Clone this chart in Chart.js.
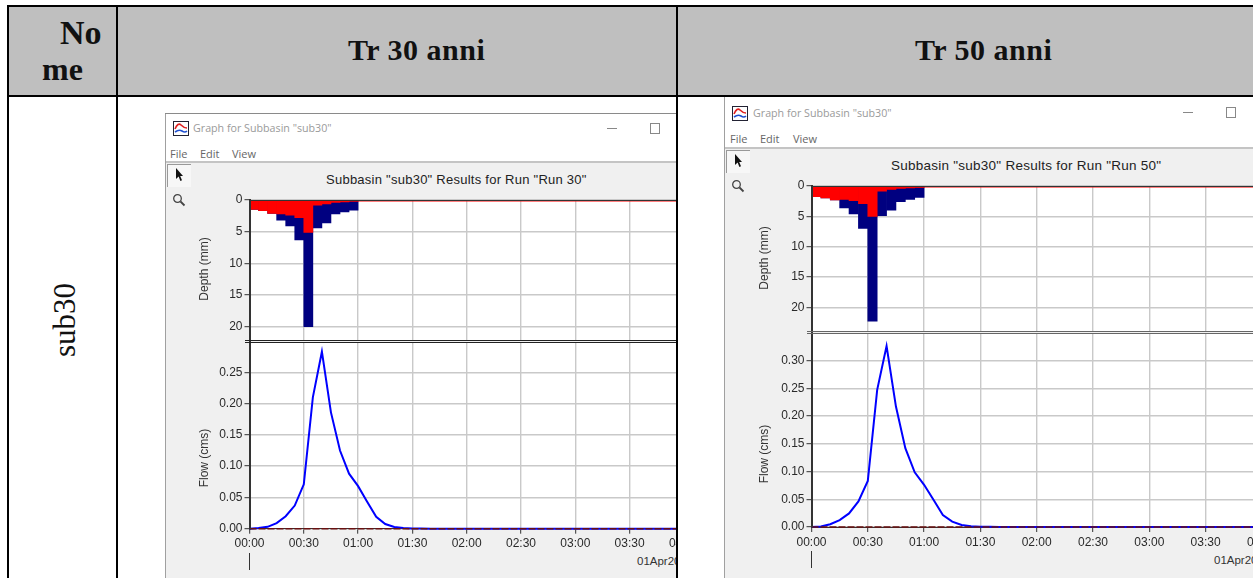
<!DOCTYPE html>
<html><head><meta charset="utf-8">
<style>
html,body{margin:0;padding:0;background:#fff;width:1253px;height:578px;overflow:hidden}
.a{position:absolute}
.b{position:absolute;background:#000}
.t{position:absolute;white-space:nowrap;line-height:1}
.hd{font:bold 30px "Liberation Serif",serif;color:#111;letter-spacing:.5px}
.win{position:absolute;overflow:hidden;background:#fff}
.body{position:absolute;background:#f0f0f0;left:1px;right:0;bottom:0}
.cap{font:10.7px "Open Sans",sans-serif;color:#9a9a9a}
.menu{font:11px "Open Sans",sans-serif;color:#666}
.plot{font:13px "Liberation Sans",sans-serif;color:#222}
.date{font:11.5px "Liberation Sans",sans-serif;color:#333}
.ylab{font:12px "Liberation Sans",sans-serif;color:#333;transform:translate(-50%,-50%) rotate(-90deg);z-index:3}
canvas{position:absolute;display:block}
</style>
</head><body>
<div class="a" style="left:8px;top:7px;width:1245px;height:88px;background:#bfbfbf"></div>
<div class="b" style="left:7px;top:5px;width:1246px;height:2px"></div>
<div class="b" style="left:7px;top:95px;width:1246px;height:2px"></div>
<div class="b" style="left:7px;top:5px;width:2px;height:573px"></div>
<div class="b" style="left:116px;top:5px;width:2px;height:573px"></div>
<div class="b" style="left:676px;top:5px;width:2px;height:573px"></div>
<div class="t" style="left:60px;top:14px;font:bold 34px 'Liberation Serif',serif;color:#111">No</div>
<div class="t" style="left:42px;top:51px;font:bold 32px 'Liberation Serif',serif;color:#111">me</div>
<div class="t hd" style="left:348px;top:33px">Tr 30 anni</div>
<div class="t hd" style="left:915px;top:33px">Tr 50 anni</div>
<div class="t" style="left:65px;top:320px;font:31px 'Liberation Serif',serif;color:#111;transform:translate(-50%,-50%) rotate(-90deg)">sub30</div>
<div id="w1"></div>
<div id="w2"></div>
<script src="https://cdn.jsdelivr.net/npm/chart.js@4/dist/chart.umd.min.js"></script>
<script>
// ---- values ----
const barTimes = [2.5,7.5,12.5,17.5,22.5,27.5,32.5,37.5,42.5,47.5,52.5,57.5];
const flowTimes = [0,5,10,15,20,25,30,35,40,45,50,55,60,65,70,75,80,85,90,95,100,270];
const edgeTimes = [0,270];
const edgeValues = [0,0];

const precip30 = [1.5,1.7,2.1,3.2,4.1,6.3,20.0,4.4,3.6,2.2,1.9,1.6];
const loss30   = [1.5,1.7,2.1,2.2,2.4,2.8,5.1,0.8,0.6,0.4,0.3,0.2];
const flow30   = [0,0.001,0.003,0.009,0.02,0.037,0.071,0.21,0.283,0.186,0.125,0.088,0.068,0.043,0.019,0.0075,0.0027,0.001,0.0005,0.0003,0,0];

const precip50 = [1.75,1.95,2.3,3.6,4.6,7.0,22.3,4.9,4.0,2.6,2.2,1.9];
const loss50   = [1.75,1.95,2.3,2.2,2.4,2.9,5.0,0.85,0.55,0.4,0.3,0.25];
const flow50   = [0,0.001,0.005,0.0125,0.0245,0.046,0.083,0.247,0.326,0.217,0.142,0.0986,0.076,0.049,0.0216,0.0096,0.0036,0.0015,0.0006,0.0003,0,0];

const captionText = 'Graph for Subbasin "sub30"';
const menuItems = ['File','Edit','View'];
const dateLabel = '01Apr2016';
const depthLabel = 'Depth (mm)';
const flowLabel = 'Flow (cms)';
// --------------------------------------

const zip = (xs,ys)=>xs.map((x,i)=>({x,y:ys[i]}));
const hhmm = m => String(Math.floor(m/60)).padStart(2,'0')+':'+String(m%60).padStart(2,'0');
const FONT = {family:'"Liberation Sans",sans-serif',size:12};
const GRID = '#c9c9c9', AX = '#333';

Chart.register({id:'plotBg',beforeDraw(c){
  const a=c.chartArea,g=c.ctx;g.save();g.fillStyle='#fff';g.fillRect(a.left,a.top,a.right-a.left,a.bottom-a.top);g.restore();
}});

function yScale(max,step,reverse,fmt,left){
  return {type:'linear',min:0,max,reverse,
    ticks:{stepSize:step,includeBounds:false,color:'#2a2a2a',font:FONT,padding:2,callback:fmt},
    grid:{color:GRID,lineWidth:1.4,tickColor:AX,tickLength:5,tickWidth:1},
    border:{color:AX,width:2,z:1},
    afterFit:s=>{s.width=left}};
}
function xScale(show,h){
  return {type:'linear',min:0,max:270,offset:false,position:show?'bottom':'top',
    ticks:{display:show,stepSize:30,includeBounds:false,autoSkip:false,maxRotation:0,color:'#2a2a2a',font:FONT,padding:3,callback:hhmm},
    grid:{color:GRID,lineWidth:1.4,offset:false,tickColor:AX,tickLength:5,tickWidth:1,drawTicks:show},
    border:{color:AX,width:1,z:show?0:1},
    afterFit:s=>{s.height=h}};
}
function base(pad,scales){
  return {responsive:false,animation:false,events:[],
    layout:{padding:pad},
    plugins:{legend:{display:false},tooltip:{enabled:false},title:{display:false}},scales};
}
function mkCanvas(host,x,y,w,h){
  const c=document.createElement('canvas');
  c.width=w;c.height=h;c.style.cssText=`left:${x}px;top:${y}px;width:${w}px;height:${h}px`;
  host.appendChild(c);return c;
}
function icon(x,y){
  return `<svg class="a" style="left:${x}px;top:${y}px" width="16" height="15" viewBox="0 0 16 15">
  <rect x=".5" y=".5" width="15" height="14" fill="#fff" stroke="#223"/>
  <path d="M2 8 Q5 1 8 4 T14 7" fill="none" stroke="#e02020" stroke-width="1.6"/>
  <path d="M2 11 Q6 8 9 10 T14 10" fill="none" stroke="#2050d0" stroke-width="1.6"/></svg>`;
}
function tools(x,y){
  return `<div class="a" style="left:${x}px;top:${y}px;width:23px;height:22px;background:#f7f7f7;border-left:1px solid #999;border-top:1px solid #999"></div>
  <svg class="a" style="left:${x+7}px;top:${y+4}px" width="10" height="14" viewBox="0 0 10 14"><path d="M2 0 L2 11 L4.6 8.6 L6.4 13 L8 12.2 L6.2 8 L9 8 Z" fill="#111"/></svg>
  <svg class="a" style="left:${x+5}px;top:${y+29}px" width="14" height="14" viewBox="0 0 14 14"><circle cx="5.5" cy="5.5" r="3.8" fill="none" stroke="#444" stroke-width="1.3"/><path d="M8.5 8.5 L12.5 12.5" stroke="#444" stroke-width="1.8"/></svg>`;
}

function panel(cfg){
  const host=document.getElementById(cfg.id);
  host.className='win';
  host.style.cssText=`left:${cfg.x}px;top:${cfg.y}px;width:${cfg.clip-cfg.x}px;height:${578-cfg.y}px`;
  const o=cfg.o;
  const rx=v=>v-cfg.x, ry=v=>v-cfg.y;
  host.innerHTML=`
   <div class="a" style="left:0;top:0;width:1px;height:100%;background:#a0a0a0"></div>
   <div class="a" style="left:0;top:0;width:100%;height:1px;background:${cfg.topLine}"></div>
   ${icon(8,o.icon)}
   <div class="t cap" style="left:${o.capX}px;top:${o.cap}px">${captionText}</div>
   <div class="a" style="left:${o.minX}px;top:${o.ctl+5}px;width:10px;height:1px;background:#888"></div>
   <div class="a" style="left:${o.minX+43}px;top:${o.ctl}px;width:8px;height:9px;border:1px solid #888"></div>
   ${menuItems.map((m,i)=>`<div class="t menu" style="left:${o.menuX[i]}px;top:${o.menu}px">${m}</div>`).join('')}
   <div class="body" style="top:${o.body}px;border-top:2px solid #c4c4c4"></div>
   ${tools(2,o.body+3)}
   <div class="t plot" style="left:${o.titleX}px;top:${o.title}px;letter-spacing:.25px;font-size:${o.titleSize}px">Subbasin "sub30" Results for Run "${cfg.run}"</div>
   <div class="t date" style="left:${rx(cfg.dateX)}px;top:${ry(cfg.dateY)}px">${dateLabel}</div>
   <div class="a" style="left:${rx(cfg.plotL)-1}px;top:${ry(cfg.flowZero+24)}px;width:1px;height:17px;background:#333"></div>`;

  const W=cfg.canvasW, L=cfg.plotL-cfg.x, R=W-(L+270/30*cfg.px30);
  // depth panel
  const dTop=cfg.depthZero-15, dH=cfg.split+15-dTop;
  new Chart(mkCanvas(host,0,ry(dTop),W,dH),{type:'bar',
    data:{datasets:[
      {type:'line',data:zip(edgeTimes,edgeValues),borderColor:'#ff0000',borderWidth:3,pointRadius:0,order:0},
      {data:zip(barTimes,cfg.loss),backgroundColor:'#ff0000',grouped:false,categoryPercentage:1,barPercentage:1,order:1},
      {data:zip(barTimes,cfg.precip),backgroundColor:'#000080',grouped:false,categoryPercentage:1,barPercentage:1,order:2}
    ]},
    options:base({top:15,right:R,left:0,bottom:15},{
      x:xScale(false,0),
      y:yScale(cfg.depthMax,5,true,v=>String(v),L)
    })});
  // flow panel
  const fTop=cfg.flowTop-10, fH=578-fTop;
  new Chart(mkCanvas(host,0,ry(fTop),W,fH),{type:'line',
    data:{datasets:[
      {data:zip(edgeTimes,edgeValues),borderColor:'#6a1010',borderWidth:1.4,borderDash:[7,2],pointRadius:0,order:0,clip:3},
      {data:zip(flowTimes,cfg.flow),borderColor:'#0000ff',borderWidth:2,pointRadius:0,tension:0,order:1,clip:3}
    ]},
    options:base({top:10,right:R,left:0,bottom:0},{
      x:xScale(true,578-cfg.flowZero),
      y:yScale(cfg.flowMax,0.05,false,v=>v.toFixed(2),L)
    })});
  // divider between the two panels
  const d=document.createElement('div');
  d.className='a';
  d.style.cssText=`left:${cfg.plotL-cfg.x-5}px;right:0;top:${ry(cfg.split)}px;height:1px;border-top:1px solid ${cfg.split1};border-bottom:1px solid ${cfg.split1}`;
  host.appendChild(d);
  // rotated axis titles
  [[depthLabel,cfg.depthLabelY],[flowLabel,cfg.flowLabelY]].forEach(([txt,y])=>{
    const e=document.createElement('div');
    e.className='t ylab';e.textContent=txt;
    e.style.left=rx(cfg.labelX)+'px';e.style.top=ry(y)+'px';
    host.appendChild(e);
  });
}

panel({id:'w1',x:165,y:113,clip:676,canvasW:620,run:'Run 30',topLine:'#8a8a8a',
  plotL:249.5,px30:54.3,depthZero:199.5,depthMax:22.1,split:339.5,flowTop:342,flowZero:528.7,flowMax:0.2985,
  labelX:203.5,depthLabelY:268.5,flowLabelY:458,dateX:637,dateY:555,split1:'#222',
  precip:precip30,loss:loss30,flow:flow30,
  o:{icon:8,capX:28,cap:8,minX:442,ctl:10,menuX:[5,35,67],menu:33,body:48,titleX:161,title:59,titleSize:13}});
panel({id:'w2',x:724,y:96,clip:1253,canvasW:640,run:'Run 50',topLine:'#000',
  plotL:811.5,px30:56.3,depthZero:186,depthMax:23.9,split:331,flowTop:333,flowZero:527,flowMax:0.3495,
  labelX:763.5,depthLabelY:258,flowLabelY:454,dateX:1214,dateY:554,split1:'#666',
  precip:precip50,loss:loss50,flow:flow50,
  o:{icon:10,capX:29,cap:10,minX:459,ctl:11,menuX:[6,36,69],menu:35,body:51,titleX:167,title:62,titleSize:13.5}});
</script>
</body></html>
